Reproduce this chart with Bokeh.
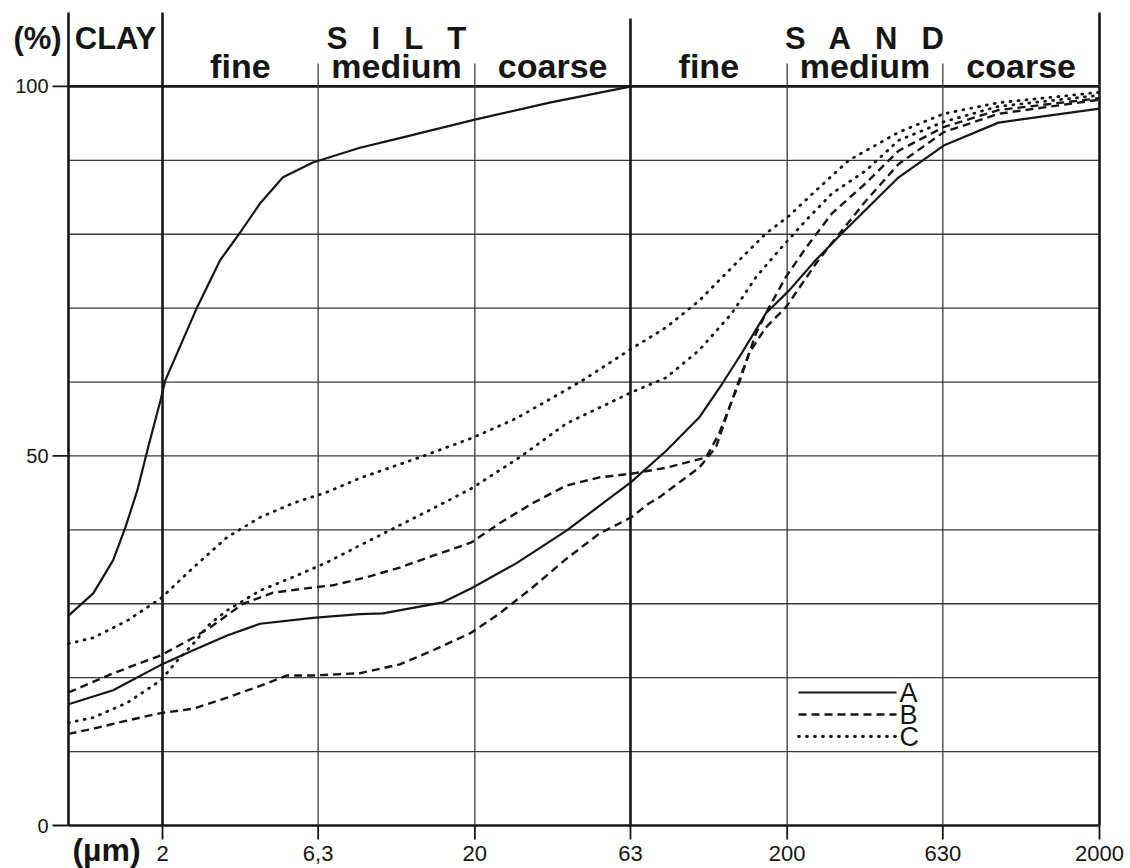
import numpy as np
from bokeh.plotting import figure
from bokeh.models import Range1d, ColumnDataSource
from bokeh.embed import file_html
from bokeh.resources import INLINE
from bokeh.core.properties import value

# ---------------- data ----------------
tick_um = [2, 6.3, 20, 63, 200, 630, 2000]
tick_labels = ["2", "6,3", "20", "63", "200", "630", "2000"]
pct_ticks = [0, 50, 100]
pct_labels = ["0", "50", "100"]
grid_pct = [10, 20, 30, 40, 50, 60, 70, 80, 90]
x_lim = [1, 2000]
y_lim = [0, 100]

main_names = ["CLAY", "S\u2002 I\u2002 L\u2002 T", "S\u2002 A\u2002 N\u2002 D"]
main_lo = [1, 2, 63]
main_hi = [2, 63, 2000]
sub_names = ["fine", "medium", "coarse", "fine", "medium", "coarse"]
sub_lo = [2, 6.3, 20, 63, 200, 630]
sub_hi = [6.3, 20, 63, 200, 630, 2000]
minor_bounds = [6.3, 20, 200, 630]
major_bounds = [2, 63]
legend_names = ["A", "B", "C"]

# curve A (solid) - two samples
a1_um = [1.0, 1.20, 1.39, 1.52, 1.66, 1.80, 1.97, 2.04, 2.58, 3.06, 3.54, 4.11, 4.86, 6.06, 8.57, 11.5, 20.0, 34.7, 63.4]
a1_pct = [28.4, 31.4, 35.9, 40.3, 45.3, 51.2, 57.5, 60.2, 70.1, 76.5, 80.2, 84.2, 87.7, 89.7, 91.7, 93.0, 95.5, 97.8, 100.0]
a2_um = [1.0, 1.39, 1.97, 2.51, 3.22, 4.11, 6.06, 8.57, 10.15, 15.8, 19.5, 27.2, 39.3, 63.4, 82.0, 104.5, 124, 143, 171, 203, 247, 299, 455, 634, 950, 2000]
a2_pct = [16.4, 18.3, 21.7, 23.7, 25.7, 27.3, 28.1, 28.6, 28.7, 30.2, 32.1, 35.5, 39.9, 46.5, 50.7, 55.2, 59.8, 63.9, 69.3, 72.4, 76.5, 80.1, 87.7, 92.0, 95.1, 97.0]

# curve B (dashed) - two samples
b1_um = [1.0, 1.39, 1.97, 2.51, 2.84, 3.62, 4.52, 6.06, 7.02, 9.02, 11.5, 14.7, 19.5, 24.0, 30.6, 39.3, 50.1, 63.4, 82.0, 110, 121, 140, 159, 175, 198, 230, 278, 357, 455, 634, 950, 2000]
b1_pct = [18.0, 20.6, 23.0, 25.4, 26.8, 30.0, 31.5, 32.2, 32.5, 33.6, 34.9, 36.5, 38.3, 40.9, 43.6, 46.0, 47.1, 47.6, 48.4, 49.8, 53.0, 59.8, 66.6, 70.1, 74.2, 78.2, 82.8, 86.9, 91.3, 94.5, 96.8, 98.4]
b2_um = [1.0, 1.20, 1.54, 1.97, 2.51, 3.22, 4.11, 5.01, 6.06, 8.57, 11.5, 14.7, 19.5, 24.0, 30.6, 39.3, 50.1, 63.4, 72.3, 77.9, 104.5, 118.4, 133, 151, 171, 198, 247, 278, 357, 455, 634, 950, 2000]
b2_pct = [12.4, 13.1, 14.2, 15.2, 15.8, 17.3, 18.9, 20.3, 20.3, 20.6, 21.8, 23.7, 26.1, 28.7, 32.2, 36.1, 39.5, 41.7, 43.6, 44.4, 48.4, 51.2, 57.5, 63.9, 67.4, 70.1, 76.0, 78.8, 84.5, 89.5, 93.8, 96.3, 98.2]

# curve C (dotted) - two samples
c1_um = [1.0, 1.20, 1.54, 1.97, 2.51, 3.22, 4.11, 5.23, 6.72, 8.57, 13.3, 19.5, 27.2, 44.2, 63.4, 82.0, 104.5, 133, 171, 203, 247, 315, 455, 634, 950, 2000]
c1_pct = [24.6, 25.4, 27.7, 30.7, 34.9, 39.0, 41.7, 43.6, 45.1, 47.0, 49.8, 52.4, 55.1, 60.2, 64.5, 67.4, 71.0, 75.5, 80.1, 82.5, 85.9, 90.0, 93.8, 96.3, 97.8, 99.2]
c2_um = [1.0, 1.20, 1.54, 1.97, 2.23, 2.51, 2.84, 3.22, 4.11, 5.23, 6.72, 8.57, 14.7, 19.5, 27.8, 39.3, 63.4, 82.0, 104.5, 133, 159, 188, 230, 278, 357, 455, 634, 950, 2000]
c2_pct = [13.9, 14.6, 16.6, 19.6, 22.3, 24.6, 27.3, 29.1, 31.8, 33.6, 35.6, 37.9, 42.9, 45.6, 49.8, 54.4, 58.6, 60.6, 64.3, 69.3, 74.2, 77.8, 81.9, 85.5, 88.6, 92.7, 95.2, 97.3, 98.8]

# ---------------- geometry / style ----------------
INK = "#161616"
GREY = "#3a3a3a"
FONT = "Liberation Sans"
W, H = 1130, 868
L_PX, R_PX, B_PX, T_PX = 68, 1099, 825, 12     # pixel positions of x=1, x=2000, y=0, top line
Y_TOP = 110                                      # value at the top of the drawing
DEC = (R_PX - L_PX) / np.log10(x_lim[1] / x_lim[0])
UPP = Y_TOP / (B_PX - T_PX)
LEG_X_PX = (798, 896)          # legend sample line extent (px)
LEG_Y_PX = [692, 714, 736]     # legend rows (px from top)


def xoff(x, px):
    return np.asarray(x, dtype=float) * 10 ** (px / DEC)


def yoff(y, px):
    return np.asarray(y, dtype=float) + px * UPP


def x_at(px):
    return x_lim[0] * 10 ** ((px - L_PX) / DEC)


def y_at(px):
    return (B_PX - px) * UPP


p = figure(width=W, height=H, x_axis_type="log", x_axis_location=None, y_axis_location=None,
           x_range=Range1d(x_at(0), x_at(W)), y_range=Range1d(y_at(H), y_at(0)),
           min_border=0, output_backend="svg", toolbar_location=None)
p.outline_line_color = None
p.xgrid.visible = False
p.ygrid.visible = False
p.background_fill_color = "white"
p.border_fill_color = "white"

n = len(grid_pct)
# thin horizontal grid
p.segment(x0=[x_lim[0]] * n, y0=grid_pct, x1=[x_lim[1]] * n, y1=grid_pct, line_color=GREY, line_width=1.3)
# thick 0 % and 100 % lines
p.segment(x0=[x_lim[0]] * 2, y0=y_lim, x1=[x_lim[1]] * 2, y1=y_lim, line_color=INK, line_width=2.6)
# y ticks
p.segment(x0=xoff([x_lim[0]] * 3, -16), y0=pct_ticks, x1=[x_lim[0]] * 3, y1=pct_ticks,
          line_color=INK, line_width=1.8)
# x ticks
p.segment(x0=tick_um, y0=[0] * len(tick_um), x1=tick_um, y1=yoff([0] * len(tick_um), -14),
          line_color=INK, line_width=1.8)
# vertical class lines
m = len(minor_bounds)
p.segment(x0=minor_bounds, y0=[0] * m, x1=minor_bounds, y1=[103.1] * m, line_color=GREY, line_width=1.3)
p.segment(x0=major_bounds, y0=[0] * 2, x1=major_bounds, y1=[110, 109.2], line_color=INK, line_width=2.6)
p.segment(x0=x_lim, y0=[0] * 2, x1=x_lim, y1=[Y_TOP] * 2, line_color=INK, line_width=2.6)

# tick labels
p.text(x=xoff([x_lim[0]] * 3, -20), y=pct_ticks, text=pct_labels, text_align="right",
       text_baseline="middle", text_font=value(FONT), text_font_size="20px", text_color=INK)
p.text(x=tick_um, y=yoff([0] * len(tick_um), -20), text=tick_labels, text_align="center",
       text_baseline="top", text_font=value(FONT), text_font_size="22px", text_color=INK)

# header texts
main_src = ColumnDataSource(dict(x=np.sqrt(np.array(main_lo) * np.array(main_hi)),
                                 y=[106.5] * 3, t=main_names))
p.text(x="x", y="y", text="t", source=main_src, text_align="center", text_baseline="alphabetic",
       text_font=value(FONT), text_font_style="bold", text_font_size="31px", text_color=INK)
sub_src = ColumnDataSource(dict(x=np.sqrt(np.array(sub_lo) * np.array(sub_hi)),
                                y=[102.7] * 6, t=sub_names))
p.text(x="x", y="y", text="t", source=sub_src, text_align="center", text_baseline="alphabetic",
       text_font=value(FONT), text_font_style="bold", text_font_size="34px", text_color=INK)
p.text(x=xoff([x_lim[0]], -31), y=[106.5], text=["(%)"], text_align="center",
       text_baseline="alphabetic", text_font=value(FONT), text_font_style="bold",
       text_font_size="31px", text_color=INK)
p.text(x=xoff([x_lim[0]], 38), y=[-3.3], text=["(\u00b5m)"], text_align="center",
       text_baseline="alphabetic", text_font=value(FONT), text_font_style="bold",
       text_font_size="32px", text_color=INK)

# curves
SOLID = dict(line_color=INK, line_width=2.2)
DASHED = dict(line_color=INK, line_width=2.4, line_dash="8 5")
DOTTED = dict(line_color=INK, line_width=2.8, line_dash="1 7", line_cap="round")
p.line(a1_um, a1_pct, **SOLID)
p.line(a2_um, a2_pct, **SOLID)
p.line(b1_um, b1_pct, **DASHED)
p.line(b2_um, b2_pct, **DASHED)
p.line(c1_um, c1_pct, **DOTTED)
p.line(c2_um, c2_pct, **DOTTED)

# legend (drawn as key lines + labels)
leg_x = [x_at(LEG_X_PX[0]), x_at(LEG_X_PX[1])]
for style, ypx in zip([SOLID, DASHED, DOTTED], LEG_Y_PX):
    p.line(leg_x, [y_at(ypx)] * 2, **style)
p.text(x=[x_at(LEG_X_PX[1] + 3)] * 3, y=[y_at(v) for v in LEG_Y_PX], text=legend_names,
       text_align="left", text_baseline="middle", text_font=value(FONT),
       text_font_size="27px", text_color=INK)

open("out.html", "w").write(file_html(p, INLINE))
